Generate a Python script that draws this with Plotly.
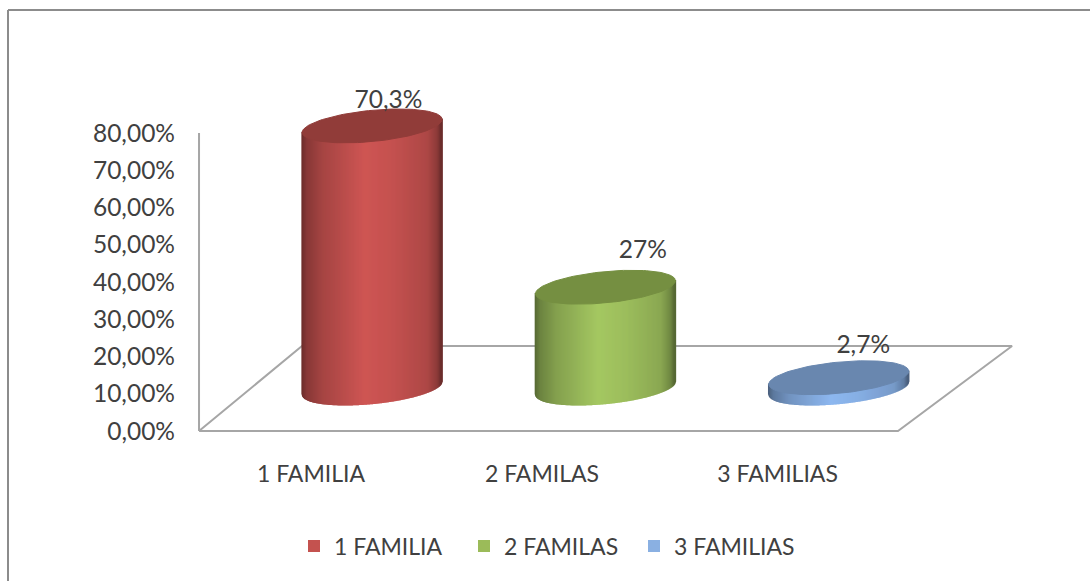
import numpy as np
import plotly.graph_objects as go

categories = ["1 FAMILIA", "2 FAMILAS", "3 FAMILIAS"]
values = [70.3, 27.0, 2.7]
value_labels = ["70,3%", "27%", "2,7%"]
y_ticks = [0, 10, 20, 30, 40, 50, 60, 70, 80]
y_tick_labels = ["0,00%", "10,00%", "20,00%", "30,00%", "40,00%", "50,00%", "60,00%", "70,00%", "80,00%"]
x_ticks = [0, 0.99, 2]

W, H = 1090, 581
FONT = "Lato"
TXT = "#404040"
PX_X0, PX_DX = 311.0, 233.3   # category 0 pixel, pixels per category
PX_Y0, PX_DY = 431.0, 3.725   # value 0 pixel, pixels per percent
xr = [(0 - PX_X0) / PX_DX, (W - PX_X0) / PX_DX]
yr = [(PX_Y0 - H) / PX_DY, PX_Y0 / PX_DY]

base_colors = [(207, 86, 84), (165, 200, 98), (142, 184, 240)]
top_colors = [(145, 60, 57), (117, 143, 65), (105, 135, 175)]
legend_colors = ["#C4524F", "#9BBB59", "#8AB0E2"]

DEPTH_X = 0.262     # depth offset of bars along the category axis
DEPTH_Y = 11.6      # depth offset of bars along the value axis
HALF_W = 0.30
RY = 4.2
TILT = 1.75
N = 140

def shade(u):
    stops_u = [-1.0, -0.92, -0.7, -0.1, 0.3, 0.8, 0.94, 1.0]
    stops_v = [0.52, 0.66, 0.80, 1.00, 0.95, 0.84, 0.68, 0.50]
    return float(np.interp(u, stops_u, stops_v))

fig = go.Figure()

# floor and wall lines
FLOOR_Y = 22.8
fx = [-0.48, 2.516, 3.005, -0.0386, -0.48]
fy = [0, 0, FLOOR_Y, FLOOR_Y, 0]
fig.add_trace(go.Scatter(x=fx, y=fy, mode="lines", line=dict(color="#A6A6A6", width=2),
                         showlegend=False, hoverinfo="skip"))
fig.add_trace(go.Scatter(x=[-0.48, -0.48], y=[0, 80], mode="lines", line=dict(color="#A6A6A6", width=2),
                         showlegend=False, hoverinfo="skip"))

for i, (v, base, top) in enumerate(zip(values, base_colors, top_colors)):
    cx = i + DEPTH_X
    edges = np.linspace(-1, 1, N + 1)
    for a, b in zip(edges[:-1], edges[1:]):
        us = np.linspace(a, b, 3)
        low = DEPTH_Y + TILT * us - RY * np.sqrt(np.clip(1 - us**2, 0, 1))
        up = DEPTH_Y + v + TILT * us
        xs = cx + HALF_W * us
        s = shade((a + b) / 2)
        c = "rgb(%d,%d,%d)" % tuple(int(ch * s) for ch in base)
        fig.add_trace(go.Scatter(
            x=np.concatenate([xs, xs[::-1], xs[:1]]),
            y=np.concatenate([low, up[::-1], low[:1]]),
            mode="lines", fill="toself", fillcolor=c, line=dict(color=c, width=1.5),
            showlegend=False, hoverinfo="skip"))
    t = np.linspace(0, 2 * np.pi, 121)
    fig.add_trace(go.Scatter(
        x=cx + HALF_W * np.cos(t),
        y=DEPTH_Y + v + TILT * np.cos(t) + RY * np.sin(t),
        mode="lines", fill="toself", fillcolor="rgb(%d,%d,%d)" % top,
        line=dict(color="rgb(%d,%d,%d)" % top, width=1),
        showlegend=False, hoverinfo="skip"))

# data labels
label_dx = [0.07, 0.16, 0.105]
label_dy = [6.5, 9.6, 8.4]
fig.add_trace(go.Scatter(
    x=[i + DEPTH_X + d for i, d in enumerate(label_dx)],
    y=[DEPTH_Y + v + d for v, d in zip(values, label_dy)],
    mode="text", text=value_labels, textposition="middle center",
    textfont=dict(family=FONT, size=24.5, color=TXT),
    showlegend=False, hoverinfo="skip"))

# legend entries
for name, c in zip(categories, legend_colors):
    fig.add_trace(go.Scatter(x=[None], y=[None], mode="markers", name=name,
                             marker=dict(symbol="square", size=14, color=c)))

fig.update_layout(
    width=W, height=H, autosize=False,
    margin=dict(l=0, r=0, t=0, b=0),
    paper_bgcolor="white", plot_bgcolor="white",
    font=dict(family=FONT, size=23, color=TXT),
    xaxis=dict(range=xr, domain=[0, 1], tickmode="array", tickvals=x_ticks, ticktext=categories,
               anchor="free", position=1 - 458.0 / H, showgrid=False, zeroline=False, showline=False,
               ticks="", tickfont=dict(family=FONT, size=23, color=TXT)),
    yaxis=dict(range=yr, domain=[0, 1], tickmode="array", tickvals=y_ticks, ticktext=y_tick_labels,
               anchor="free", position=199.0 / W, showgrid=False, zeroline=False, showline=False,
               ticks="", ticklabelstandoff=24, tickfont=dict(family=FONT, size=24.5, color=TXT)),
    legend=dict(orientation="h", x=549.0 / W, xanchor="center", y=1 - 546.0 / H, yanchor="middle",
                font=dict(family=FONT, size=23, color=TXT), bgcolor="rgba(0,0,0,0)", itemsizing="constant",
                entrywidth=125, entrywidthmode="pixels"),
    shapes=[
        dict(type="line", xref="paper", yref="paper", x0=8.0 / W, x1=8.0 / W, y0=0, y1=1 - 10.0 / H,
             line=dict(color="#8C8C8C", width=2)),
        dict(type="line", xref="paper", yref="paper", x0=8.0 / W, x1=1, y0=1 - 10.0 / H, y1=1 - 10.0 / H,
             line=dict(color="#8C8C8C", width=2)),
    ],
)
fig.write_html("out.html", config={"displayModeBar": False},
               post_script="document.body.style.margin='0';document.body.style.overflow='hidden';")
